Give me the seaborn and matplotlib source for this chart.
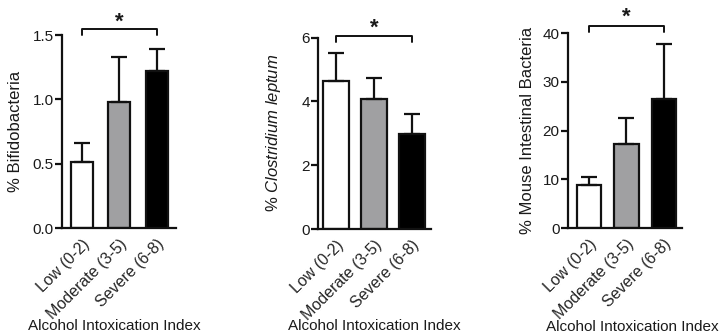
import numpy as np
import matplotlib
matplotlib.use('Agg')
import matplotlib.pyplot as plt
import seaborn as sns

# groups on the x axis
grupos = ['Low (0-2)', 'Moderate (3-5)', 'Severe (6-8)']
cores = ['#ffffff', '#a0a0a2', '#000000']

# mean values and upper error bar (SEM) per panel
bifido = [0.51, 0.98, 1.22]
bifido_err = [0.15, 0.35, 0.17]

clostridium = [4.63, 4.08, 2.97]
clostridium_err = [0.87, 0.64, 0.63]

mouse = [8.8, 17.3, 26.5]
mouse_err = [1.7, 5.2, 11.4]

sns.set_theme(style='ticks')
plt.rcParams['font.family'] = ['Liberation Sans', 'DejaVu Sans']
plt.rcParams['mathtext.fontset'] = 'custom'
plt.rcParams['mathtext.rm'] = 'Liberation Sans'
plt.rcParams['mathtext.it'] = 'Liberation Sans:italic'
plt.rcParams['text.color'] = '#1a1a1a'
plt.rcParams['axes.labelcolor'] = '#1a1a1a'

fig = plt.figure(figsize=(7.21, 3.35), dpi=100)

paineis = [
    dict(pos=[0.0860, 0.3194, 0.1581, 0.5761], vals=bifido, err=bifido_err,
         ylim=(0, 1.5), yticks=[0, 0.5, 1.0, 1.5], fmt='{:.1f}', xlim=(-0.53, 2.51), width=0.59,
         ylabel='% Bifidobacteria', ylab_x=-0.34, xlab_x=0.456,
         br_top=1.543, br_leg=1.5, star=1.60),
    dict(pos=[0.4411, 0.3164, 0.1567, 0.5716], vals=clostridium, err=clostridium_err,
         ylim=(0, 6), yticks=[0, 2, 4, 6], fmt='{:.0f}', xlim=(-0.47, 2.5), width=0.68,
         ylabel=r'% $\mathit{Clostridium\ leptum}$', ylab_x=-0.31, xlab_x=0.5,
         br_top=6.05, br_leg=5.86, star=6.30),
    dict(pos=[0.7878, 0.3194, 0.1581, 0.5812], vals=mouse, err=mouse_err,
         ylim=(0, 40), yticks=[0, 10, 20, 30, 40], fmt='{:.0f}', xlim=(-0.56, 2.48), width=0.66,
         ylabel='% Mouse Intestinal Bacteria', ylab_x=-0.29, xlab_x=0.56,
         br_top=41.5, br_leg=40.27, star=43.3),
]

for p in paineis:
    ax = fig.add_axes(p['pos'])
    sns.barplot(x=grupos, y=p['vals'], hue=grupos, palette=cores, width=p['width'],
                edgecolor='#111111', linewidth=1.6, legend=False, ax=ax)
    x = np.arange(len(grupos))
    ax.errorbar(x, p['vals'], yerr=[np.zeros(len(grupos)), p['err']], fmt='none',
                ecolor='#111111', elinewidth=1.6, capsize=6, capthick=1.6, zorder=1)
    ax.set_xlim(p['xlim'])
    ax.set_ylim(p['ylim'])
    ax.set_yticks(p['yticks'])
    ax.set_yticklabels([p['fmt'].format(v) for v in p['yticks']], fontsize=11)
    ax.set_xticks(x)
    ax.set_xticklabels(grupos, rotation=45, ha='right', rotation_mode='anchor', fontsize=11.5)
    ax.tick_params(axis='x', length=0, pad=6)
    ax.tick_params(axis='y', length=5, width=1.6, pad=1, colors='#111111', labelcolor='#1a1a1a')
    sns.despine(ax=ax)
    for s in ['left', 'bottom']:
        ax.spines[s].set_linewidth(1.6)
        ax.spines[s].set_color('#111111')
    ax.set_ylabel(p['ylabel'], fontsize=12)
    ax.yaxis.set_label_coords(p['ylab_x'], 0.5)
    ax.set_xlabel('Alcohol Intoxication Index', fontsize=11)
    ax.xaxis.set_label_coords(p['xlab_x'], -0.47)

    # significance bracket between low and severe
    ax.plot([0, 0, 2, 2], [p['br_leg'], p['br_top'], p['br_top'], p['br_leg']],
            color='#111111', lw=1.4, clip_on=False)
    ax.text(1, p['star'], '*', ha='center', va='center', fontsize=16, fontweight='bold',
            clip_on=False)

fig.savefig('out.png', dpi=100)
